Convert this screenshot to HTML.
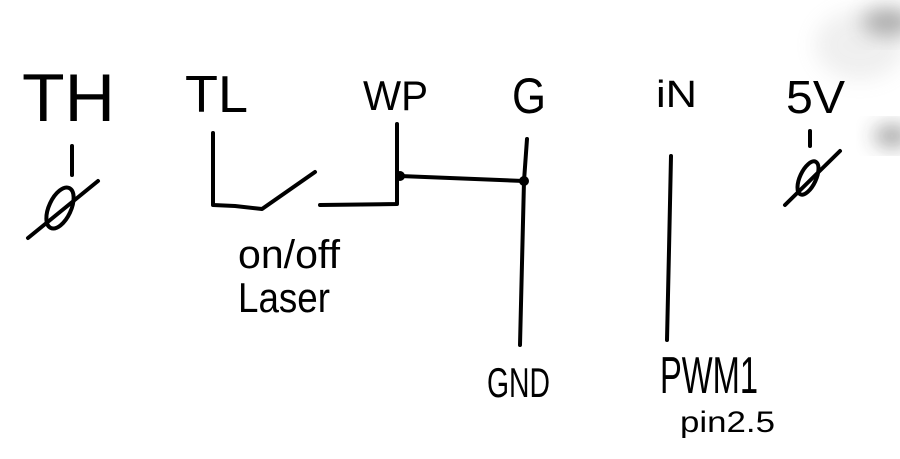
<!DOCTYPE html>
<html><head><meta charset="utf-8"><style>
html,body{margin:0;padding:0;background:#fff;}
svg{display:block;}
text{font-family:"Liberation Sans",sans-serif;fill:#000;}
</style></head><body>
<svg width="900" height="459" viewBox="0 0 900 459" xmlns="http://www.w3.org/2000/svg">
<defs>
<filter id="b" x="-50%" y="-50%" width="200%" height="200%"><feGaussianBlur stdDeviation="10"/></filter>
</defs>
<rect width="900" height="459" fill="#fff"/>
<!-- smudges -->
<ellipse cx="888" cy="22" rx="26" ry="14" fill="#444" opacity="0.45" filter="url(#b)"/>
<ellipse cx="892" cy="136" rx="18" ry="10" fill="#333" opacity="0.5" filter="url(#b)"/>
<ellipse cx="860" cy="45" rx="45" ry="35" fill="#aaa" opacity="0.18" filter="url(#b)"/>

<g fill="none" stroke="#000" stroke-width="4" stroke-linecap="round" stroke-linejoin="round">
<!-- TH ground symbol -->
<line x1="72" y1="146" x2="72" y2="175"/>
<ellipse cx="60" cy="208" rx="11" ry="22" transform="rotate(25 60 208)"/>
<line x1="28" y1="238" x2="98" y2="181"/>
<!-- TL switch -->
<path d="M213 133 L213 205 L235 206 L262 209 L315 172"/>
<path d="M320 205 L397 204 L397 124"/>
<line x1="400" y1="176" x2="524" y2="181"/>
<circle cx="400" cy="176" r="3" fill="#000"/>
<circle cx="524" cy="181" r="3" fill="#000"/>
<!-- G line -->
<path d="M527 139 L524 181 L520 345"/>
<!-- iN line -->
<path d="M671 156 L669 250 L667 340"/>
<!-- 5V symbol -->
<line x1="810" y1="131" x2="810" y2="146"/>
<ellipse cx="808" cy="178" rx="8" ry="18" transform="rotate(25 808 178)"/>
<line x1="785" y1="205" x2="840" y2="151"/>
</g>

<text x="22" y="121" font-size="68" textLength="93" lengthAdjust="spacingAndGlyphs">TH</text>
<text x="185" y="112" font-size="52" textLength="63" lengthAdjust="spacingAndGlyphs">TL</text>
<text x="363" y="110" font-size="42" textLength="65" lengthAdjust="spacingAndGlyphs">WP</text>
<text x="512" y="113" font-size="50" textLength="34" lengthAdjust="spacingAndGlyphs">G</text>
<text x="656" y="107" font-size="38" textLength="41" lengthAdjust="spacingAndGlyphs">iN</text>
<text x="786" y="113" font-size="46" textLength="59" lengthAdjust="spacingAndGlyphs">5V</text>
<text x="238" y="268" font-size="40" textLength="102" lengthAdjust="spacingAndGlyphs">on/off</text>
<text x="238" y="312" font-size="42" textLength="92" lengthAdjust="spacingAndGlyphs">Laser</text>
<text x="487" y="397" font-size="42" textLength="63" lengthAdjust="spacingAndGlyphs">GND</text>
<text x="660" y="393" font-size="52" textLength="98" lengthAdjust="spacingAndGlyphs">PWM1</text>
<text x="680" y="432" font-size="30" textLength="95" lengthAdjust="spacingAndGlyphs">pin2.5</text>
</svg>
</body></html>
